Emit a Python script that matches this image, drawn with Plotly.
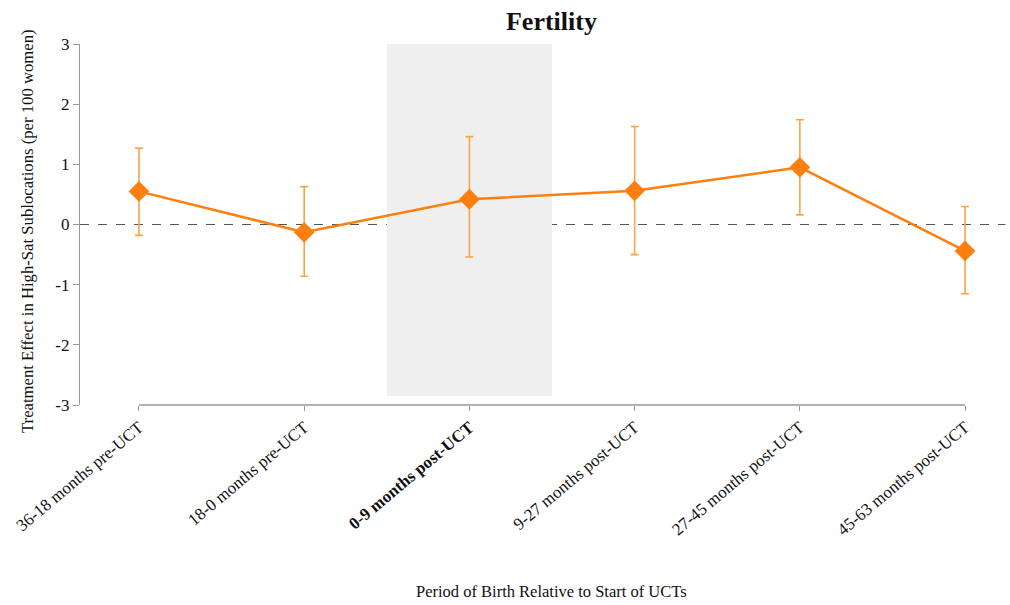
import plotly.graph_objects as go

categories = ["36-18 months pre-UCT", "18-0 months pre-UCT", "0-9 months post-UCT",
              "9-27 months post-UCT", "27-45 months post-UCT", "45-63 months post-UCT"]
tick_labels = ["36-18 months pre-UCT", "18-0 months pre-UCT", "<b>0-9 months post-UCT</b>",
               "9-27 months post-UCT", "27-45 months post-UCT", "45-63 months post-UCT"]
estimates = [0.55, -0.13, 0.42, 0.56, 0.95, -0.44]
ci_upper = [1.27, 0.63, 1.46, 1.63, 1.74, 0.30]
ci_lower = [-0.18, -0.86, -0.54, -0.50, 0.16, -1.15]
y_ticks = [-3, -2, -1, 0, 1, 2, 3]
y_tick_labels = ["-3", "-2", "-1", "0", "1", "2", "3"]

x = list(range(len(categories)))
err_plus = [u - e for u, e in zip(ci_upper, estimates)]
err_minus = [e - l for e, l in zip(estimates, ci_lower)]

FONT = "Liberation Serif"
ORANGE = "#FF7F0E"

fig = go.Figure()
fig.add_trace(go.Scatter(
    x=x, y=estimates, mode="lines+markers",
    line=dict(color=ORANGE, width=2.5),
    marker=dict(symbol="diamond", size=16, color=ORANGE),
    error_y=dict(type="data", symmetric=False, array=err_plus, arrayminus=err_minus,
                 color="#F7A548", thickness=1.6, width=4),
    cliponaxis=False, showlegend=False,
))

# shaded treatment window
fig.add_shape(type="rect", xref="x", yref="y", x0=1.5, x1=2.5, y0=-2.85, y1=3.02,
              fillcolor="#EFEFEF", line=dict(width=0), layer="below")
# zero line
fig.add_shape(type="line", xref="paper", yref="y", x0=0, x1=1.017, y0=0, y1=0,
              line=dict(color="#555555", width=1.2, dash="dash"), layer="between")
# x axis line
fig.add_shape(type="line", xref="x", yref="paper", x0=0, x1=5, y0=0, y1=0,
              line=dict(color="#9A9A9A", width=1.3))

# axis titles
fig.add_annotation(text="Period of Birth Relative to Start of UCTs", xref="paper", yref="paper",
                   x=0.5176, y=-0.518, xanchor="center", yanchor="middle", showarrow=False,
                   font=dict(family=FONT, size=16.5, color="#111111"))
fig.add_annotation(text="Treatment Effect in High-Sat Sublocations (per 100 women)",
                   xref="paper", yref="paper", x=-0.0571, y=0.482, textangle=-90,
                   xanchor="center", yanchor="middle", showarrow=False,
                   font=dict(family=FONT, size=16.7, color="#111111"))

fig.update_layout(
    width=1010, height=605,
    margin=dict(l=80, r=20, t=44, b=200),
    plot_bgcolor="white", paper_bgcolor="white",
    font=dict(family=FONT, size=14, color="#111111"),
    title=dict(text="<b>Fertility</b>", x=0.546, xanchor="center", y=0.965, yanchor="middle",
               font=dict(family=FONT, size=26, color="#111111")),
    xaxis=dict(range=[-0.357, 5.151], tickmode="array", tickvals=x, ticktext=tick_labels,
               tickangle=-40, ticks="outside", ticklen=5, tickcolor="#9A9A9A",
               showline=False, showgrid=False, zeroline=False, automargin=False,
               tickfont=dict(family=FONT, size=17, color="#111111")),
    yaxis=dict(range=[-3, 3], tickmode="array", tickvals=y_ticks, ticktext=y_tick_labels,
               ticks="outside", ticklen=6, tickcolor="#9A9A9A",
               showline=True, linecolor="#9A9A9A", linewidth=1.3,
               showgrid=False, zeroline=False, automargin=False,
               tickfont=dict(family=FONT, size=17, color="#111111")),
)

fig.write_html("out.html")
